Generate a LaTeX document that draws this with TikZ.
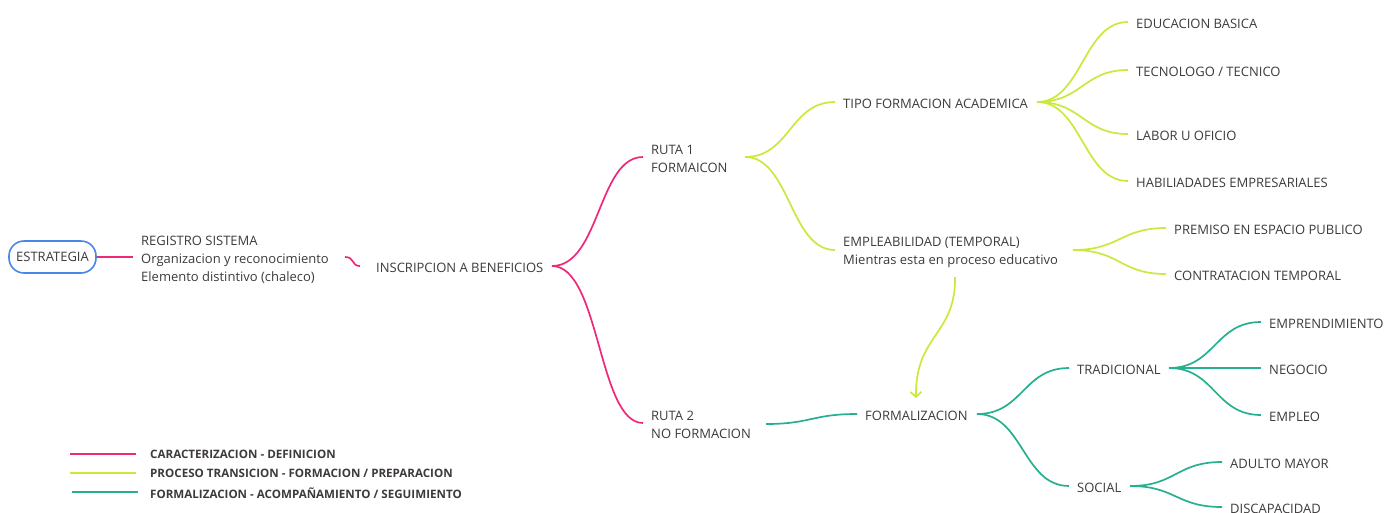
\documentclass[tikz,border=0pt]{standalone}
\usepackage{fontspec}
\setmainfont{Open Sans}
\usetikzlibrary{arrows.meta}
\definecolor{cpink}{HTML}{F0287A}
\definecolor{cgreen}{HTML}{C8EA3C}
\definecolor{cteal}{HTML}{26B08F}
\definecolor{cblue}{HTML}{4A86E8}
\definecolor{ctext}{HTML}{3E3A3A}
\tikzset{
  lbl/.style={anchor=west, inner xsep=0pt, inner ysep=2pt, yshift=-1.5pt, align=left, text=ctext, font=\fontsize{13}{18}\selectfont},
  leg/.style={anchor=west, inner sep=0pt, text=ctext, font=\fontsize{11.6}{13}\selectfont\bfseries},
  pk/.style={draw=cpink, line width=1.7pt},
  gr/.style={draw=cgreen, line width=1.7pt},
  tl/.style={draw=cteal, line width=1.7pt},
}
\begin{document}
\begin{tikzpicture}[x=1pt,y=-1pt]
\useasboundingbox (0,0) rectangle (1385,512);
% root
\node[draw=cblue, line width=1.6pt, rounded corners=15pt, minimum width=87pt, minimum height=32pt, inner sep=0pt, text=ctext, font=\fontsize{13}{18}\selectfont] (root) at (52.5,257) {ESTRATEGIA};
\node[lbl] (reg) at (141,258) {REGISTRO SISTEMA\\Organizacion y reconocimiento\\Elemento distintivo (chaleco)};
\node[lbl] (ins) at (376,266) {INSCRIPCION A BENEFICIOS};
\node[lbl] (r1) at (651,157) {RUTA 1\\FORMAICON};
\node[lbl] (r2) at (651,423) {RUTA 2\\NO FORMACION};
\node[lbl] (tipo) at (843,102) {TIPO FORMACION ACADEMICA};
\node[lbl] (emp) at (843,251) {EMPLEABILIDAD (TEMPORAL)\\Mientras esta en proceso educativo};
\node[lbl] (edu) at (1136,22) {EDUCACION BASICA};
\node[lbl] (tec) at (1136,70) {TECNOLOGO / TECNICO};
\node[lbl] (lab) at (1136,134) {LABOR U OFICIO};
\node[lbl] (hab) at (1136,181) {HABILIADADES EMPRESARIALES};
\node[lbl] (pre) at (1174,228) {PREMISO EN ESPACIO PUBLICO};
\node[lbl] (con) at (1174,274) {CONTRATACION TEMPORAL};
\node[lbl] (form) at (865,414) {FORMALIZACION};
\node[lbl] (tra) at (1077,368) {TRADICIONAL};
\node[lbl] (soc) at (1077,486) {SOCIAL};
\node[lbl] (empr) at (1269,322) {EMPRENDIMIENTO};
\node[lbl] (neg) at (1269,368) {NEGOCIO};
\node[lbl] (eml) at (1269,415) {EMPLEO};
\node[lbl] (adu) at (1230,462) {ADULTO MAYOR};
\node[lbl] (dis) at (1230,507) {DISCAPACIDAD};
% connector ends
\coordinate (rootE) at (root.east);
\coordinate (regW) at (133,257);
\coordinate (regE) at (345,257);
\coordinate (insW) at (360,266);
\coordinate (insE) at (552,266);
\coordinate (r1W) at (643,157);
\coordinate (r2W) at (643,423);
\coordinate (r1E) at (745,157);
\coordinate (r2E) at (766,424);
\coordinate (tipoW) at (835,102);
\coordinate (empW) at (835,250);
\coordinate (tipoE) at (1037,102);
\coordinate (empE) at (1073,250);
\coordinate (eduW) at (1128,22);
\coordinate (tecW) at (1128,70);
\coordinate (labW) at (1128,134);
\coordinate (habW) at (1128,181);
\coordinate (preW) at (1166,228);
\coordinate (conW) at (1166,274);
\coordinate (formW) at (857,414);
\coordinate (formE) at (977,414);
\coordinate (traW) at (1069,368);
\coordinate (socW) at (1069,486);
\coordinate (traE) at (1169,368);
\coordinate (socE) at (1130,486);
\coordinate (emprW) at (1261,322);
\coordinate (negW) at (1261,368);
\coordinate (emlW) at (1261,415);
\coordinate (aduW) at (1222,462);
\coordinate (disW) at (1222,507);
\coordinate (arS) at (955,277);
\coordinate (arE) at (916,398);
% pink
\draw[pk] (rootE) -- (regW);
\draw[pk] (regE) .. controls (355,257) and (351,266) .. (insW);
\draw[pk] (insE) .. controls (600,266) and (598,157) .. (r1W);
\draw[pk] (insE) .. controls (600,266) and (598,423) .. (r2W);
% green
\draw[gr] (r1E) .. controls (790,157) and (790,102) .. (tipoW);
\draw[gr] (r1E) .. controls (790,157) and (790,250) .. (empW);
\foreach \t in {eduW,tecW,labW,habW}{
  \draw[gr] (tipoE) .. controls (1082,102) and (1083,0|-\t) .. (\t);
}
\draw[gr] (empE) .. controls (1120,250) and (1120,228) .. (preW);
\draw[gr] (empE) .. controls (1120,250) and (1120,274) .. (conW);
\draw[gr, -{Straight Barb[length=5pt,width=11pt]}] (arS) .. controls (956,335) and (915,335) .. (arE);
% teal
\draw[tl] (r2E) .. controls (811,424) and (812,414) .. (formW);
\draw[tl] (formE) .. controls (1023,414) and (1023,368) .. (traW);
\draw[tl] (formE) .. controls (1023,414) and (1023,486) .. (socW);
\draw[tl] (traE) .. controls (1215,368) and (1215,322) .. (emprW);
\draw[tl] (traE) -- (negW);
\draw[tl] (traE) .. controls (1215,368) and (1215,415) .. (emlW);
\draw[tl] (socE) .. controls (1176,486) and (1176,462) .. (aduW);
\draw[tl] (socE) .. controls (1176,486) and (1176,507) .. (disW);
% legend
\coordinate (l1a) at (70,454); \coordinate (l1b) at (136,454);
\coordinate (l2a) at (70,473); \coordinate (l2b) at (136,473);
\coordinate (l3a) at (72,492); \coordinate (l3b) at (138,492);
\draw[pk, line width=2.2pt] (l1a) -- (l1b);
\draw[gr, line width=2.2pt] (l2a) -- (l2b);
\draw[tl, line width=2.2pt] (l3a) -- (l3b);
\node[leg] (t1) at (150,454) {CARACTERIZACION - DEFINICION};
\node[leg] (t2) at (150,473.5) {PROCESO TRANSICION - FORMACION / PREPARACION};
\node[leg] (t3) at (150,493) {FORMALIZACION - ACOMPAÑAMIENTO / SEGUIMIENTO};
\end{tikzpicture}
\end{document}
